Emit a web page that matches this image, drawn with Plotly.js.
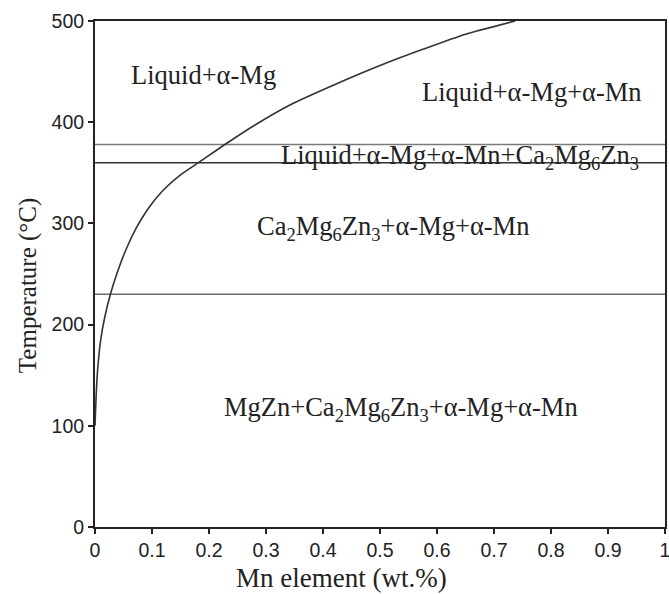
<!DOCTYPE html>
<html>
<head>
<meta charset="utf-8">
<script src="https://cdn.plot.ly/plotly-3.0.1.min.js"></script>
<style>html,body{margin:0;padding:0;background:#fff;}#chart{width:669px;height:594px;}</style>
</head>
<body>
<div id="chart"></div>
<script>
// Phase boundary curve (Mn wt.% vs temperature)
const curveMn   = [0, 0.002, 0.005, 0.01, 0.017, 0.027, 0.04, 0.055, 0.072, 0.095, 0.12, 0.15, 0.184, 0.228, 0.28, 0.342, 0.42, 0.5, 0.575, 0.65, 0.737];
const curveTemp = [100, 130, 158, 185, 207, 230, 253, 275, 295, 316, 333, 348, 361, 378, 397, 417, 437, 456, 472, 487, 500];

// Horizontal isotherms
const isoTemps  = [378, 360, 230];
const isoColors = ['#7a7a7a', '#333333', '#6a6a6a'];
const isoRange  = [0, 1];

// Region labels
const labelText = ['Liquid+α-Mg', 'Liquid+α-Mg+α-Mn', 'Liquid+α-Mg+α-Mn+Ca<sub>2</sub>Mg<sub>6</sub>Zn<sub>3</sub>',
                   'Ca<sub>2</sub>Mg<sub>6</sub>Zn<sub>3</sub>+α-Mg+α-Mn', 'MgZn+Ca<sub>2</sub>Mg<sub>6</sub>Zn<sub>3</sub>+α-Mg+α-Mn'];
const labelX    = [0.19, 0.767, 0.64, 0.523, 0.537];
const labelY    = [447, 430, 366, 295, 117];
const labelSize = [26.5, 26.5, 26.5, 26.5, 26.5];

// Axis titles
const xTitle = 'Mn element (wt.%)';
const yTitle = 'Temperature (°C)';

const xTicks = [0, 0.1, 0.2, 0.3, 0.4, 0.5, 0.6, 0.7, 0.8, 0.9, 1];
const xTickText = ['0', '0.1', '0.2', '0.3', '0.4', '0.5', '0.6', '0.7', '0.8', '0.9', '1'];
const yTicks = [0, 100, 200, 300, 400, 500];

const traces = [];
isoTemps.forEach((t, i) => {
  traces.push({x: isoRange, y: [t, t], mode: 'lines', line: {color: isoColors[i], width: 1.5},
               hoverinfo: 'skip', showlegend: false});
});
traces.push({x: curveMn, y: curveTemp, mode: 'lines', line: {color: '#333', width: 1.6, shape: 'spline', smoothing: 0.6},
             showlegend: false});

const serif = 'Liberation Serif, Times New Roman, serif';
const annotations = labelText.map((t, i) => ({
  x: labelX[i], y: labelY[i], xref: 'x', yref: 'y', text: t, showarrow: false,
  font: {family: serif, size: labelSize[i], color: '#222'},
  xanchor: 'center', yanchor: 'middle'
}));
annotations.push({
  x: 0.433, y: -0.1, xref: 'paper', yref: 'paper', text: xTitle, showarrow: false,
  font: {family: serif, size: 27, color: '#222'}, xanchor: 'center', yanchor: 'middle'
});
annotations.push({
  x: -0.1175, y: 0.478, xref: 'paper', yref: 'paper', text: yTitle, showarrow: false, textangle: -90,
  font: {family: serif, size: 25, color: '#222'}, xanchor: 'center', yanchor: 'middle'
});

const tickFont = {family: 'Liberation Sans, Arial, sans-serif', size: 19.5, color: '#222'};
const layout = {
  width: 669, height: 594,
  margin: {l: 95, r: 4, t: 21, b: 67},
  paper_bgcolor: '#fff', plot_bgcolor: '#fff',
  showlegend: false,
  xaxis: {
    range: [0, 1], tickvals: xTicks, ticktext: xTickText, ticklabeloverflow: 'allow',
    showgrid: false, zeroline: false, showline: true, mirror: true,
    linecolor: '#222', linewidth: 2, ticks: 'outside', ticklen: 5, tickwidth: 2, tickcolor: '#222',
    tickfont: tickFont
  },
  yaxis: {
    range: [0, 500], tickvals: yTicks, ticklabeloverflow: 'allow',
    showgrid: false, zeroline: false, showline: true, mirror: true,
    linecolor: '#222', linewidth: 2, ticks: 'outside', ticklen: 5, tickwidth: 2, tickcolor: '#222',
    tickfont: tickFont
  },
  annotations: annotations
};

Plotly.newPlot('chart', traces, layout, {displayModeBar: false, staticPlot: true});
</script>
</body>
</html>
